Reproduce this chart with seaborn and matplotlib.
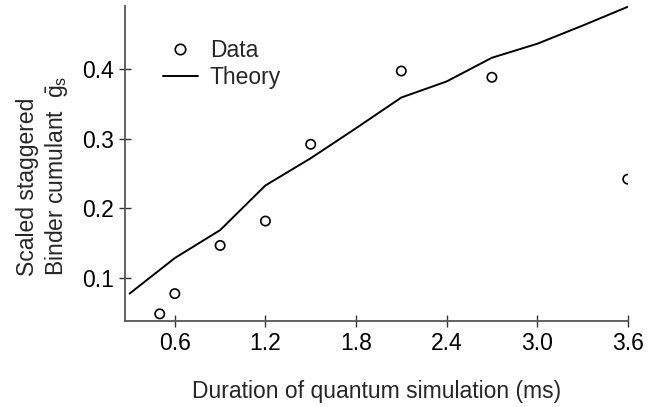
import matplotlib
matplotlib.use("Agg")
import matplotlib.pyplot as plt
import seaborn as sns
import pandas as pd
from matplotlib.lines import Line2D

data_x = [0.5, 0.6, 0.9, 1.2, 1.5, 2.1, 2.7, 3.6]
data_y = [0.049, 0.078, 0.147, 0.182, 0.292, 0.397, 0.388, 0.242]
theory_x = [0.3, 0.6, 0.9, 1.2, 1.5, 1.8, 2.1, 2.4, 2.7, 3.0, 3.3, 3.6]
theory_y = [0.078, 0.129, 0.169, 0.233, 0.272, 0.315, 0.359, 0.382, 0.416, 0.436, 0.462, 0.489]
x_ticks = [0.6, 1.2, 1.8, 2.4, 3.0, 3.6]
x_ticklabels = ["0.6", "1.2", "1.8", "2.4", "3.0", "3.6"]
y_ticks = [0.1, 0.2, 0.3, 0.4]
y_ticklabels = ["0.1", "0.2", "0.3", "0.4"]

sns.set_style("ticks")
plt.rcParams['font.family'] = ['Liberation Sans', 'DejaVu Sans']
plt.rcParams['mathtext.fontset'] = 'custom'
plt.rcParams['mathtext.rm'] = 'Liberation Sans'
plt.rcParams['mathtext.it'] = 'Liberation Sans'

FS = 16.5

df_data = pd.DataFrame({"x": data_x, "y": data_y})
df_theory = pd.DataFrame({"x": theory_x, "y": theory_y})

fig = plt.figure(figsize=(6.65, 4.07), dpi=100)
ax = fig.add_axes([0.188, 0.211, 0.756, 0.774])

sns.lineplot(data=df_theory, x="x", y="y", ax=ax, color="black", lw=1.4, legend=False)
sns.scatterplot(data=df_data, x="x", y="y", ax=ax, marker="o", s=45,
                facecolor="none", edgecolor="black", linewidth=1.2, legend=False, zorder=3)

ax.set_xlim(0.27, 3.6)
ax.set_ylim(0.0386, 0.49)
ax.set_xticks(x_ticks)
ax.set_xticklabels(x_ticklabels)
ax.set_yticks(y_ticks)
ax.set_yticklabels(y_ticklabels)
ax.tick_params(direction="inout", length=8, width=1, colors="#333333", labelsize=FS,
               labelcolor="black", pad=4)
for side in ["top", "right"]:
    ax.spines[side].set_visible(False)
for side in ["left", "bottom"]:
    ax.spines[side].set_color("#555555")
    ax.spines[side].set_linewidth(1.3)

ax.set_xlabel("Duration of quantum simulation (ms)", fontsize=FS, labelpad=18)
ax.set_ylabel("Scaled staggered\nBinder cumulant  $\\bar{\\mathrm{g}}_\\mathrm{s}$", fontsize=FS,
              linespacing=1.2, multialignment="left")
ax.yaxis.set_label_coords(-0.11, 0.46)

handles = [Line2D([], [], marker="o", ls="none", mfc="none", mec="black", ms=7.5, mew=1.2),
           Line2D([], [], color="black", lw=1.4)]
ax.legend(handles, ["Data", "Theory"], loc="upper left", bbox_to_anchor=(0.075, 0.897),
          frameon=False, fontsize=FS, handlelength=1.55, handletextpad=0.5,
          labelspacing=0.2, borderaxespad=0, borderpad=0)

fig.savefig("out.png", dpi=100)
